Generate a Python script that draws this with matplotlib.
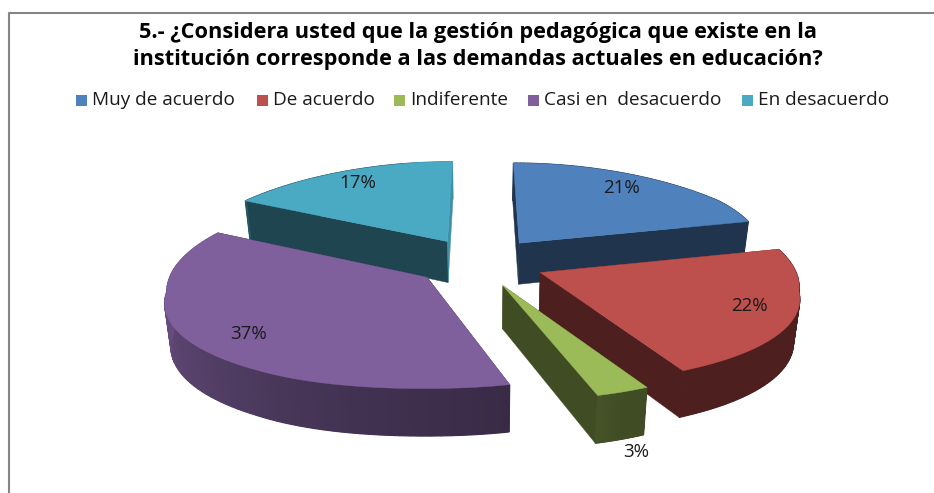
import numpy as np
import matplotlib
matplotlib.use('Agg')
import matplotlib.pyplot as plt
from matplotlib.colors import to_rgb

plt.rcParams['font.family'] = ['Open Sans', 'DejaVu Sans']

title = '5.- ¿Considera usted que la gestión pedagógica que existe en la\ninstitución corresponde a las demandas actuales en educación?'
categories = ['Muy de acuerdo', 'De acuerdo', 'Indiferente', 'Casi en  desacuerdo', 'En desacuerdo']
values = [21, 22, 3, 37, 17]
colors = ['#4f81bd', '#bd4f4c', '#9bbb59', '#7f609d', '#4aa9c3']

# where things sit on the 934x493 canvas
legend_x = [76, 257, 394, 528, 742]
label_xy = [(621, 188), (749, 306), (636, 452), (249, 334), (358, 183)]
draw_order = [4, 0, 1, 2, 3]

# fake perspective for the tilted pie, horizontal scale
xc, yc = 480, 262
persp_y = [-1.4, -1.0, -0.3, 0.14, 0.45, 0.7, 1.3]
persp_a = [345, 305, 262, 248, 238, 233, 205]
b = 94
ky = 0.12
explode = 0.26
depth = 42


def project(X, Y):
    x = xc + np.interp(Y, persp_y, persp_a) * X
    # front of the original pie leans a little to the right
    x = x + 16 * np.exp(-((X - 0.04) / 0.35) ** 2) * np.clip(-Y - 0.6, 0, 0.5) / 0.5
    y = yc - b * Y / (1 + ky * Y)
    return x, y


def drop(x, y, Y):
    # same point on the underside of the pie
    return xc + (x - xc) * 0.98, y + depth / (1 + 0.1 * Y)


def shade(col, f):
    return tuple(c * f for c in to_rgb(col))


def side_factor(deg):
    return np.interp(deg, [0, 160, 166, 200, 290, 298, 299, 345, 352],
                     [0.41, 0.41, 0.45, 0.55, 0.92, 0.92, 0.41, 0.41, 0.85])


fig = plt.figure(figsize=(9.34, 4.93), dpi=100)
ax = fig.add_axes([0, 0, 1, 1])
ax.set_xlim(0, 934)
ax.set_ylim(493, 0)
ax.axis('off')

# frame, only left and top show in the picture
ax.plot([9, 9, 934], [493, 13, 13], color='#858585', lw=1.5)

edges = np.cumsum([0] + values) / np.sum(values) * 360

for i in draw_order:
    start, end = edges[i], edges[i + 1]
    col = colors[i]
    mid = np.radians((start + end) / 2)
    X0, Y0 = explode * np.sin(mid), explode * np.cos(mid)

    deg = np.linspace(start, end, 80)
    X = X0 + np.sin(np.radians(deg))
    Y = Y0 + np.cos(np.radians(deg))
    x, y = project(X, Y)
    xb, yb = drop(x, y, Y)
    x0, y0 = project(X0, Y0)
    x0b, y0b = drop(x0, y0, Y0)

    # radial walls, the last one catches some light
    for k in [0, -1]:
        f = 0.85 if (i == len(values) - 1 and k == -1) else 0.41
        ax.fill([x0, x[k], xb[k], x0b], [y0, y[k], yb[k], y0b], color=shade(col, f), lw=0.3)

    # outer wall, underlay first so the strips leave no seams
    ax.fill(np.r_[x, xb[::-1]], np.r_[y, yb[::-1]], color=shade(col, side_factor(np.mean(deg))), lw=0)
    for k in range(len(deg) - 1):
        ax.fill([x[k], x[k + 1], xb[k + 1], xb[k]], [y[k], y[k + 1], yb[k + 1], yb[k]],
                color=shade(col, side_factor(deg[k])), lw=0.8)

    # top face
    ax.fill(np.r_[x0, x], np.r_[y0, y], color=col, lw=0.3)

for i in range(len(values)):
    ax.text(label_xy[i][0], label_xy[i][1], '%d%%' % values[i], fontsize=13.5,
            color='#1a1a1a', ha='center', va='center')

ax.text(478, 46, title, fontsize=15.7, fontweight='bold', color='black',
        ha='center', va='center', linespacing=1.32)

for i in range(len(categories)):
    ax.fill([legend_x[i], legend_x[i] + 11, legend_x[i] + 11, legend_x[i]],
            [95, 95, 106, 106], color=colors[i], lw=0)
    ax.text(legend_x[i] + 16, 100, categories[i], fontsize=13.7, color='#1a1a1a',
            ha='left', va='center')

plt.savefig('out.png', dpi=100)
